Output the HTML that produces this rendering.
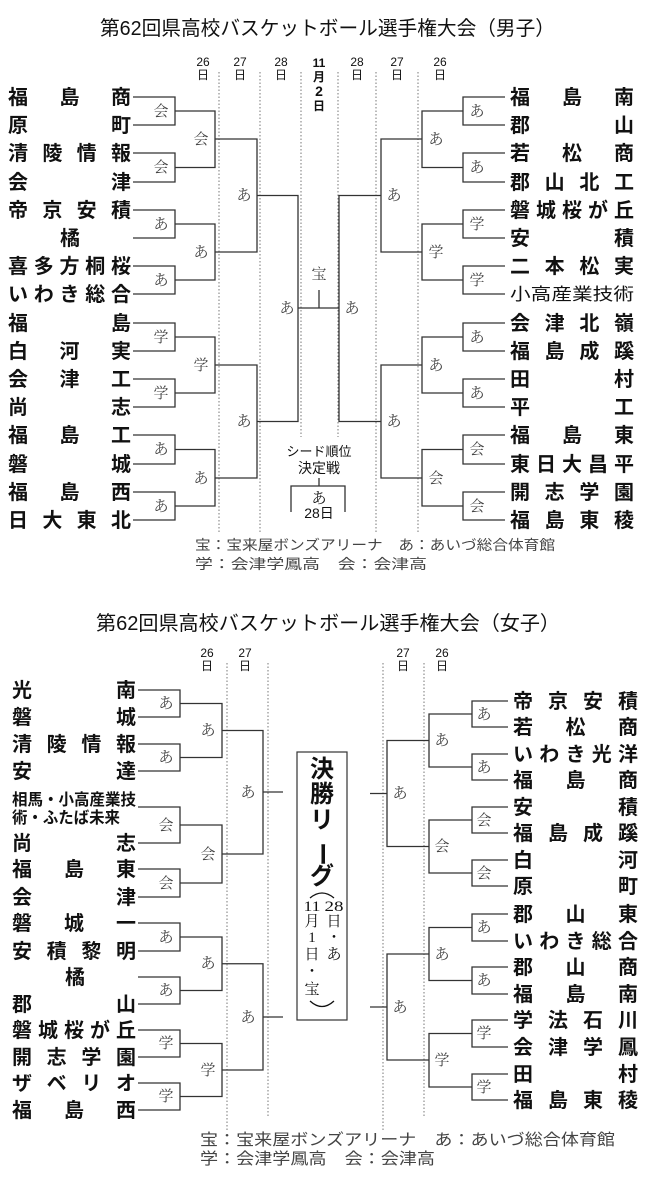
<!DOCTYPE html>
<html><head><meta charset="utf-8"><style>
html,body{margin:0;padding:0;background:#fff}
svg{display:block}
.n{font-family:"Liberation Sans","Noto Sans CJK JP",sans-serif;font-size:20px;font-weight:bold;fill:#111}
.s{font-family:"Liberation Sans","Noto Sans CJK JP",sans-serif;font-size:16px;font-weight:bold;fill:#111}
.l{font-family:"Liberation Serif","Noto Serif CJK SC",serif;font-size:15px;fill:#444;text-anchor:middle}
.d{font-family:"Liberation Sans","Noto Sans CJK JP",sans-serif;font-size:12px;fill:#111;text-anchor:middle}
.t{font-family:"Liberation Sans","Noto Sans CJK JP",sans-serif;font-size:20px;fill:#111}
.g{font-family:"Liberation Sans","Noto Sans CJK JP",sans-serif;font-size:14px;fill:#444}
.b{fill:none;stroke:#333;stroke-width:1.3}
.dot{fill:none;stroke:#777;stroke-width:1;stroke-dasharray:1.5 2}
.w{font-family:"Liberation Serif","Noto Serif CJK SC",serif;font-size:15px;fill:#111;text-anchor:middle}
.k{font-family:"Liberation Sans","Noto Sans CJK JP",sans-serif;font-size:24px;font-weight:bold;fill:#111;text-anchor:middle}
</style></head><body>
<svg width="650" height="1196" viewBox="0 0 650 1196" xmlns="http://www.w3.org/2000/svg">
<rect width="650" height="1196" fill="#fff"/>

<text class="t" x="100" y="35" textLength="455" lengthAdjust="spacingAndGlyphs">第62回県高校バスケットボール選手権大会（男子）</text>

<g class="d">
<text x="203" y="66">26</text><text x="203" y="79">日</text>
<text x="240" y="66">27</text><text x="240" y="79">日</text>
<text x="281" y="66">28</text><text x="281" y="79">日</text>
<text x="319" y="67" style="font-weight:bold">11</text><text x="319" y="81" style="font-weight:bold">月</text>
<text x="319" y="96" style="font-weight:bold;font-size:14px">2</text><text x="319" y="110" style="font-weight:bold">日</text>
<text x="357" y="66">28</text><text x="357" y="79">日</text>
<text x="397" y="66">27</text><text x="397" y="79">日</text>
<text x="440" y="66">26</text><text x="440" y="79">日</text>
</g>

<path class="dot" d="M219 72V532M260 72V532M301 72V437M338 72V437M376 72V532M418 72V532"/>

<path class="b" d="
M133 97H175V125H133 M133 153H175V182H133 M133 210H175V238H133 M133 266H175V294H133
M133 323H175V351H133 M133 379H175V407H133 M133 435H175V464H133 M133 492H175V520H133
M175 111H215V167.5H175 M175 224H215V280H175 M175 337H215V393H175 M175 449.5H215V506H175
M215 139H257V252H215 M215 365H257V478H215
M257 195.5H298V421.5H257 M298 308H339
M505 97H463V125H505 M505 153H463V182H505 M505 210H463V238H505 M505 266H463V294H505
M505 323H463V351H505 M505 379H463V407H505 M505 435H463V464H505 M505 492H463V520H505
M463 111H422V167.5H463 M463 224H422V280H463 M463 337H422V393H463 M463 449.5H422V506H463
M422 139H381V252H422 M422 365H381V478H422
M381 195.5H339V421.5H381
M319 290V308
M319 478V486 M291 512V486H345V512"/>

<g class="n">
<text x="8" y="104" textLength="123" lengthAdjust="spacing">福島商</text>
<text x="8" y="132" textLength="123" lengthAdjust="spacing">原町</text>
<text x="8" y="160" textLength="123" lengthAdjust="spacing">清陵情報</text>
<text x="8" y="189" textLength="123" lengthAdjust="spacing">会津</text>
<text x="8" y="217" textLength="123" lengthAdjust="spacing">帝京安積</text>
<text x="60" y="245">橘</text>
<text x="8" y="273" textLength="123" lengthAdjust="spacing">喜多方桐桜</text>
<text x="8" y="301" textLength="123" lengthAdjust="spacing">いわき総合</text>
<text x="8" y="330" textLength="123" lengthAdjust="spacing">福島</text>
<text x="8" y="358" textLength="123" lengthAdjust="spacing">白河実</text>
<text x="8" y="386" textLength="123" lengthAdjust="spacing">会津工</text>
<text x="8" y="414" textLength="123" lengthAdjust="spacing">尚志</text>
<text x="8" y="442" textLength="123" lengthAdjust="spacing">福島工</text>
<text x="8" y="471" textLength="123" lengthAdjust="spacing">磐城</text>
<text x="8" y="499" textLength="123" lengthAdjust="spacing">福島西</text>
<text x="8" y="527" textLength="123" lengthAdjust="spacing">日大東北</text>

<text x="510" y="104" textLength="124" lengthAdjust="spacing">福島南</text>
<text x="510" y="132" textLength="124" lengthAdjust="spacing">郡山</text>
<text x="510" y="160" textLength="124" lengthAdjust="spacing">若松商</text>
<text x="510" y="189" textLength="124" lengthAdjust="spacing">郡山北工</text>
<text x="510" y="217" textLength="124" lengthAdjust="spacing">磐城桜が丘</text>
<text x="510" y="245" textLength="124" lengthAdjust="spacing">安積</text>
<text x="510" y="273" textLength="124" lengthAdjust="spacing">二本松実</text>
<text x="510" y="300" textLength="124" lengthAdjust="spacingAndGlyphs" style="font-size:17px;font-weight:normal">小高産業技術</text>
<text x="510" y="330" textLength="124" lengthAdjust="spacing">会津北嶺</text>
<text x="510" y="358" textLength="124" lengthAdjust="spacing">福島成蹊</text>
<text x="510" y="386" textLength="124" lengthAdjust="spacing">田村</text>
<text x="510" y="414" textLength="124" lengthAdjust="spacing">平工</text>
<text x="510" y="442" textLength="124" lengthAdjust="spacing">福島東</text>
<text x="510" y="471" textLength="124" lengthAdjust="spacing">東日大昌平</text>
<text x="510" y="499" textLength="124" lengthAdjust="spacing">開志学園</text>
<text x="510" y="527" textLength="124" lengthAdjust="spacing">福島東稜</text>
</g>

<g class="l">
<text x="161" y="116">会</text><text x="161" y="172">会</text><text x="161" y="229">あ</text><text x="161" y="285">あ</text>
<text x="161" y="342">学</text><text x="161" y="398">学</text><text x="161" y="454">あ</text><text x="161" y="511">あ</text>
<text x="201" y="144">会</text><text x="201" y="257">あ</text><text x="201" y="370">学</text><text x="201" y="483">あ</text>
<text x="244" y="200">あ</text><text x="244" y="426">あ</text>
<text x="287" y="313">あ</text>
<text x="477" y="116">あ</text><text x="477" y="172">あ</text><text x="477" y="229">学</text><text x="477" y="285">学</text>
<text x="477" y="342">あ</text><text x="477" y="398">あ</text><text x="477" y="454">会</text><text x="477" y="511">会</text>
<text x="436" y="144">あ</text><text x="436" y="257">学</text><text x="436" y="370">あ</text><text x="436" y="483">会</text>
<text x="394" y="200">あ</text><text x="394" y="426">あ</text>
<text x="352" y="313">あ</text>
<text x="319" y="279">宝</text>
</g>

<g class="d" style="font-size:13px">
<text x="319" y="456">シード順位</text>
<text x="319" y="473" textLength="42" lengthAdjust="spacing" style="font-size:14px">決定戦</text>
<text x="319" y="503" style="font-size:15px;font-family:'Liberation Serif','Noto Serif CJK SC',serif">あ</text>
<text x="319" y="518" style="font-size:14px">28日</text>
</g>

<text class="g" x="195" y="550" textLength="360" lengthAdjust="spacingAndGlyphs">宝：宝来屋ボンズアリーナ　あ：あいづ総合体育館</text>
<text class="g" x="195" y="569" textLength="232" lengthAdjust="spacingAndGlyphs">学：会津学鳳高　会：会津高</text>

<text class="t" x="96" y="630" textLength="464" lengthAdjust="spacingAndGlyphs">第62回県高校バスケットボール選手権大会（女子）</text>

<g class="d">
<text x="207" y="657">26</text><text x="207" y="670">日</text>
<text x="245" y="657">27</text><text x="245" y="670">日</text>
<text x="403" y="657">27</text><text x="403" y="670">日</text>
<text x="442" y="657">26</text><text x="442" y="670">日</text>
</g>

<path class="dot" d="M227 663V1130M268 663V1118M383 663V1130M424 663V1118"/>

<path class="b" d="
M138 690H180V717H138 M138 744H180V771H138 M138 807H180V843H138 M138 869H180V897H138
M138 923H180V951H138 M138 977H180V1004H138 M138 1030H180V1057H138 M138 1083H180V1110H138
M180 703.5H222V757.5H180 M180 825H222V883H180 M180 937H222V990.5H180 M180 1043.5H222V1096.5H180
M222 730.5H263V854H222 M222 963.75H263V1070H222
M263 792H283 M263 1017H283
M508 701H472V727H508 M508 754H472V780H508 M508 807H472V833H508 M508 860H472V886H508
M508 914H472V941H508 M508 967H472V994H508 M508 1020H472V1047H508 M508 1074H472V1100H508
M472 714H429V767H472 M472 820H429V873H472 M472 927.5H429V980.5H472 M472 1033.5H429V1087H472
M429 740.5H387V846.5H429 M429 954H387V1060H429
M387 793.5H370 M387 1007H370"/>

<rect x="297" y="752" width="50" height="268" fill="none" stroke="#333" stroke-width="1.2"/>

<g class="n">
<text x="12" y="697" textLength="124" lengthAdjust="spacing">光南</text>
<text x="12" y="724" textLength="124" lengthAdjust="spacing">磐城</text>
<text x="12" y="751" textLength="124" lengthAdjust="spacing">清陵情報</text>
<text x="12" y="778" textLength="124" lengthAdjust="spacing">安達</text>
<text x="12" y="850" textLength="124" lengthAdjust="spacing">尚志</text>
<text x="12" y="876" textLength="124" lengthAdjust="spacing">福島東</text>
<text x="12" y="904" textLength="124" lengthAdjust="spacing">会津</text>
<text x="12" y="930" textLength="124" lengthAdjust="spacing">磐城一</text>
<text x="12" y="958" textLength="124" lengthAdjust="spacing">安積黎明</text>
<text x="65" y="984">橘</text>
<text x="12" y="1011" textLength="124" lengthAdjust="spacing">郡山</text>
<text x="12" y="1037" textLength="124" lengthAdjust="spacing">磐城桜が丘</text>
<text x="12" y="1064" textLength="124" lengthAdjust="spacing">開志学園</text>
<text x="12" y="1090" textLength="124" lengthAdjust="spacing">ザベリオ</text>
<text x="12" y="1117" textLength="124" lengthAdjust="spacing">福島西</text>

<text x="513" y="708" textLength="125" lengthAdjust="spacing">帝京安積</text>
<text x="513" y="734" textLength="125" lengthAdjust="spacing">若松商</text>
<text x="513" y="761" textLength="125" lengthAdjust="spacing">いわき光洋</text>
<text x="513" y="787" textLength="125" lengthAdjust="spacing">福島商</text>
<text x="513" y="814" textLength="125" lengthAdjust="spacing">安積</text>
<text x="513" y="840" textLength="125" lengthAdjust="spacing">福島成蹊</text>
<text x="513" y="867" textLength="125" lengthAdjust="spacing">白河</text>
<text x="513" y="893" textLength="125" lengthAdjust="spacing">原町</text>
<text x="513" y="921" textLength="125" lengthAdjust="spacing">郡山東</text>
<text x="513" y="948" textLength="125" lengthAdjust="spacing">いわき総合</text>
<text x="513" y="974" textLength="125" lengthAdjust="spacing">郡山商</text>
<text x="513" y="1001" textLength="125" lengthAdjust="spacing">福島南</text>
<text x="513" y="1027" textLength="125" lengthAdjust="spacing">学法石川</text>
<text x="513" y="1054" textLength="125" lengthAdjust="spacing">会津学鳳</text>
<text x="513" y="1081" textLength="125" lengthAdjust="spacing">田村</text>
<text x="513" y="1107" textLength="125" lengthAdjust="spacing">福島東稜</text>
</g>
<text class="s" x="12" y="805" textLength="124" lengthAdjust="spacingAndGlyphs">相馬・小高産業技</text>
<text class="s" x="12" y="823" textLength="108" lengthAdjust="spacingAndGlyphs">術・ふたば未来</text>

<g class="l">
<text x="166" y="708">あ</text><text x="166" y="762">あ</text><text x="166" y="830">会</text><text x="166" y="888">会</text>
<text x="166" y="942">あ</text><text x="166" y="995">あ</text><text x="166" y="1048">学</text><text x="166" y="1101">学</text>
<text x="208" y="735">あ</text><text x="208" y="859">会</text><text x="208" y="968">あ</text><text x="208" y="1075">学</text>
<text x="248" y="797">あ</text><text x="248" y="1022">あ</text>
<text x="484" y="719">あ</text><text x="484" y="772">あ</text><text x="484" y="825">会</text><text x="484" y="878">会</text>
<text x="484" y="932">あ</text><text x="484" y="985">あ</text><text x="484" y="1038">学</text><text x="484" y="1092">学</text>
<text x="442" y="745">あ</text><text x="442" y="851">会</text><text x="442" y="959">あ</text><text x="442" y="1065">学</text>
<text x="400" y="798">あ</text><text x="400" y="1012">あ</text>
</g>

<g class="k">
<text x="322" y="777">決</text>
<text x="322" y="802">勝</text>
<text x="322" y="828">リ</text>
<text x="322" y="862" transform="rotate(90 322 854)">ー</text>
<text x="322" y="884">グ</text>
</g>
<path d="M310 898Q322 888 334 898" fill="none" stroke="#111" stroke-width="1.3"/>
<g class="w">
<text x="312" y="911" textLength="17" lengthAdjust="spacingAndGlyphs">11</text>
<text x="334" y="911" textLength="19" lengthAdjust="spacingAndGlyphs">28</text>
<text x="312" y="926">月</text><text x="334" y="926">日</text>
<text x="312" y="942">1</text><text x="334" y="942">・</text>
<text x="312" y="959">日</text><text x="334" y="959">あ</text>
<text x="312" y="976">・</text>
<text x="312" y="994">宝</text>
</g>
<path d="M310 1001Q322 1012 334 1001" fill="none" stroke="#111" stroke-width="1.3"/>

<text class="g" x="200" y="1145" textLength="415" lengthAdjust="spacingAndGlyphs" style="font-size:16px">宝：宝来屋ボンズアリーナ　あ：あいづ総合体育館</text>
<text class="g" x="200" y="1164" textLength="235" lengthAdjust="spacingAndGlyphs" style="font-size:16px">学：会津学鳳高　会：会津高</text>
</svg>
</body></html>
